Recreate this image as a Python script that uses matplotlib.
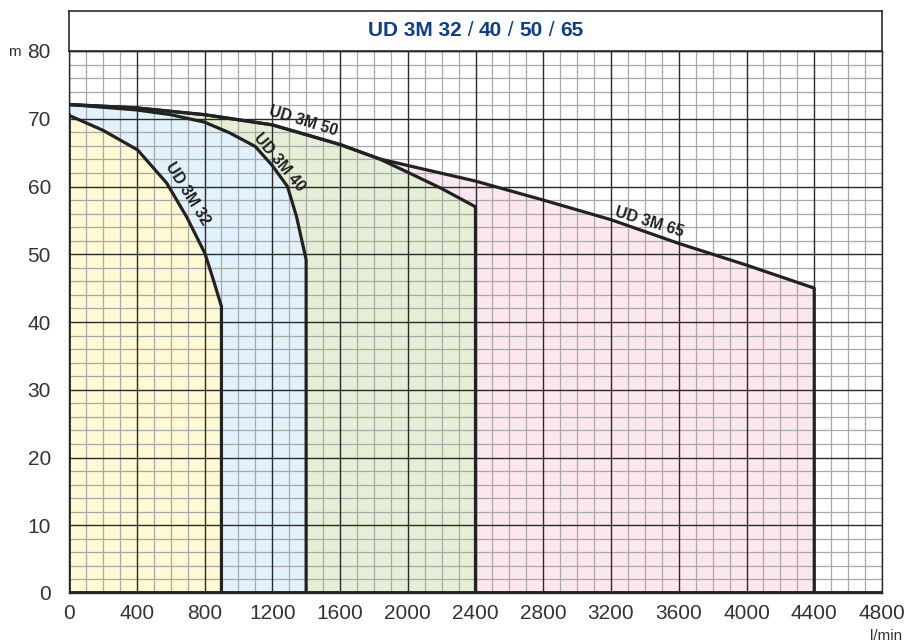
import matplotlib
matplotlib.use("Agg")
import matplotlib.pyplot as plt
from matplotlib.offsetbox import TextArea, HPacker, AnchoredOffsetbox

plt.rcParams['font.family'] = ['Liberation Sans', 'DejaVu Sans']

# ---- data (flow l/min, head m) ----
q32 = [0, 200, 405, 577, 695, 803, 850, 900]
h32 = [70.5, 68.3, 65.4, 60.5, 55.5, 50.1, 46.4, 42.3]

q40 = [0, 400, 600, 800, 950, 1100, 1200, 1290, 1344, 1374, 1400]
h40 = [72.1, 71.3, 70.6, 69.5, 67.9, 65.9, 63.1, 60.0, 55.5, 52.1, 49.2]

q50 = [0, 400, 800, 1200, 1600, 1830, 2000, 2200, 2400]
h50 = [72.1, 71.6, 70.6, 69.1, 66.2, 64.1, 62.1, 59.7, 57.0]

q65 = [0, 400, 800, 1200, 1600, 1830, 2000, 2400, 2800, 3200, 3600, 4000, 4400]
h65 = [72.1, 71.6, 70.6, 69.1, 66.2, 64.1, 63.1, 60.8, 58.0, 55.1, 51.6, 48.4, 45.0]

labels = ["UD 3M 32", "UD 3M 40", "UD 3M 50", "UD 3M 65"]
title_parts = ["UD 3M 32", " / ", "40", " / ", "50", " / ", "65"]
xticks = list(range(0, 4801, 400))
yticks = list(range(0, 81, 10))

fill_colors = ["#FFF9D4", "#E2F2FC", "#E5EFD6", "#FCE6F0"]
line_color = "#222222"

fig = plt.figure(figsize=(9.09, 6.44), dpi=100)
ax = fig.add_axes([69/909, 1-593/644, (882-69)/909, (593-51)/644])

series = [(q32, h32), (q40, h40), (q50, h50), (q65, h65)]
for (q, h), c in zip(reversed(series), reversed(fill_colors)):
    ax.fill_between(q, h, 0, color=c, lw=0, zorder=0.5)

ax.set_xlim(0, 4800)
ax.set_ylim(0, 80)

# grid
for x in range(0, 4801, 100):
    if x % 400 == 0:
        continue
    ax.axvline(x, color="#A8A8A8", lw=0.9, zorder=1)
for y in range(0, 81, 2):
    if y % 10 == 0:
        continue
    ax.axhline(y, color="#A8A8A8", lw=0.9, zorder=1)
for x in xticks:
    ax.axvline(x, color="#2a2a2a", lw=1.0, zorder=1.2)
for y in yticks:
    ax.axhline(y, color="#2a2a2a", lw=1.0, zorder=1.2)

# curves + vertical end lines
for q, h in series:
    ax.plot(list(q) + [q[-1]], list(h) + [0], color=line_color, lw=2.3,
            solid_joinstyle='round', zorder=3)
ax.plot([0, 0], [0, h32[0]], color=line_color, lw=2.6, zorder=3)
ax.axhline(0, color=line_color, lw=2.8, zorder=3.5)

# curve labels (center position in data coords, rotation)
lab_pos = [(700, 59.0, -58), (1240, 63.6, -50), (1385, 69.6, -17), (3425, 54.8, -17)]
for txt, (x, y, r) in zip(labels, lab_pos):
    ax.text(x, y, txt, rotation=r, ha='center', va='center', fontsize=11.3,
            fontweight='bold', color=line_color, zorder=4,
            rotation_mode='anchor')

ax.set_xticks(xticks)
ax.set_yticks(yticks)
ax.tick_params(length=0, labelsize=15, labelcolor="#333333")
ax.tick_params(axis='x', pad=8)
ax.tick_params(axis='y', pad=13)
for s in ax.spines.values():
    s.set_color("#2a2a2a")
    s.set_linewidth(1.0)

fig.text(14/909, 1-52/644, "m", fontsize=11, color="#333333", ha='center', va='center')
fig.text(886/909, 1-636/644, "l/min", fontsize=11, color="#333333", ha='center', va='center')

# title box
tax = fig.add_axes([69/909, 1-51/644, (882-69)/909, (51-11)/644])
tax.set_xticks([])
tax.set_yticks([])
for s in tax.spines.values():
    s.set_color("#2a2a2a")
    s.set_linewidth(1.2)
areas = []
for p in title_parts:
    w = 'normal' if '/' in p else 'bold'
    areas.append(TextArea(p, textprops=dict(fontsize=15, fontweight=w, color="#0B3F8C")))
pack = HPacker(children=areas, align='baseline', pad=0, sep=0)
ab = AnchoredOffsetbox(loc='center', child=pack, frameon=False,
                       bbox_to_anchor=(0.5, 0.5), bbox_transform=tax.transAxes, pad=0, borderpad=0)
tax.add_artist(ab)

fig.savefig("out.png", dpi=100)
